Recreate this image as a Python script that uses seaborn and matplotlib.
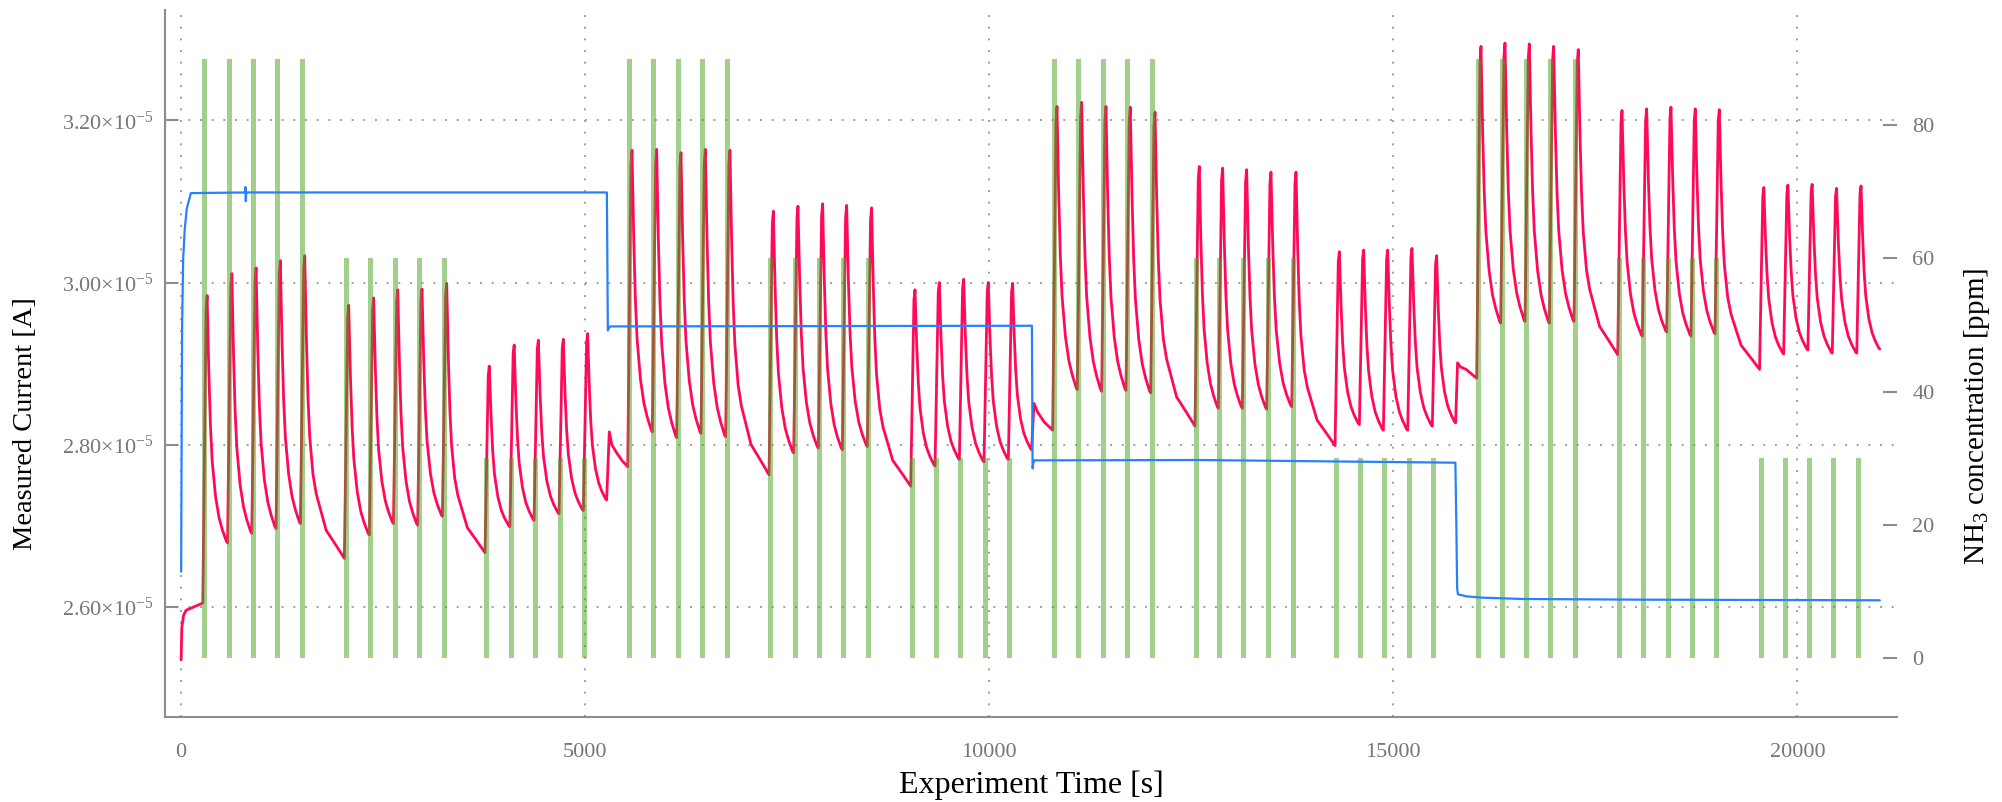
import numpy as np
import pandas as pd
import matplotlib
matplotlib.use("Agg")
import matplotlib.pyplot as plt
from matplotlib.ticker import FixedLocator, FuncFormatter
import seaborn as sns

# ---------------------------------------------------------------- data
# NH3 pulse centres [s], five pulses per group
pulse_center_s = [288, 594, 894, 1194, 1496,
                  2040, 2349, 2647, 2947, 3253,
                  3780, 4088, 4387, 4696, 4997,
                  5546, 5851, 6152, 6453, 6758,
                  7295, 7600, 7905, 8202, 8511,
                  9048, 9349, 9650, 9955, 10256,
                  10805, 11110, 11411, 11712, 12018,
                  12566, 12855, 13152, 13453, 13763,
                  14299, 14600, 14897, 15198, 15503,
                  16052, 16349, 16650, 16951, 17256,
                  17797, 18102, 18403, 18704, 19001,
                  19552, 19850, 20150, 20452, 20755]
# NH3 set-point of each group of five pulses [ppm]
group_setpoint_ppm = [90, 60, 30, 90, 60, 30, 90, 60, 30, 90, 60, 30]
pulse_width_s = 62

# sensor current at each response peak [1e-5 A]
peak_current = [2.984, 3.011, 3.018, 3.027, 3.033,
                2.972, 2.981, 2.991, 2.992, 2.999,
                2.897, 2.923, 2.929, 2.930, 2.937,
                3.163, 3.164, 3.160, 3.164, 3.163,
                3.088, 3.094, 3.097, 3.095, 3.092,
                2.991, 3.000, 3.004, 3.000, 2.999,
                3.217, 3.222, 3.217, 3.216, 3.210,
                3.143, 3.141, 3.139, 3.136, 3.136,
                3.038, 3.040, 3.040, 3.042, 3.033,
                3.291, 3.295, 3.294, 3.291, 3.287,
                3.212, 3.214, 3.216, 3.214, 3.213,
                3.117, 3.120, 3.121, 3.116, 3.119]
# sensor current at the end of each recovery [1e-5 A]
decay_end_current = [2.679, 2.691, 2.697, 2.703, 2.660,
                     2.689, 2.703, 2.701, 2.712, 2.667,
                     2.699, 2.707, 2.715, 2.719, 2.732,
                     2.816, 2.809, 2.814, 2.810, 2.763,
                     2.790, 2.796, 2.794, 2.798, 2.749,
                     2.774, 2.782, 2.779, 2.782, 2.794,
                     2.868, 2.866, 2.867, 2.864, 2.823,
                     2.845, 2.845, 2.844, 2.847, 2.799,
                     2.825, 2.818, 2.818, 2.823, 2.827,
                     2.950, 2.952, 2.950, 2.952, 2.911,
                     2.934, 2.939, 2.934, 2.937, 2.893,
                     2.912, 2.917, 2.913, 2.913, 2.918]

# beginning of the record, before the first pulse
start_t = [0, 8, 30, 60, 150, 268]
start_current = [2.535, 2.575, 2.590, 2.596, 2.600, 2.605]

# current steps when the carrier level changes (after pulses 15, 30, 45)
step_after_pulse = [14, 29, 44]
step_start_s = [5265, 10524, 15771]
step_t = [[5298, 5330, 5390, 5460, 5526],
          [10553, 10600, 10680, 10785],
          [15795, 15830, 15900, 16032]]
step_current = [[2.816, 2.800, 2.790, 2.780, 2.773],
                [2.851, 2.840, 2.828, 2.818],
                [2.901, 2.896, 2.893, 2.882]]
record_end_s = 21020

# response shape: rise starts before the pulse centre, peak comes after it
rise_lead_s = 20
near_peak_s, near_peak_level = 20, 0.95
peak_lag_s = 33
# recovery shape: fraction of recovery time vs fraction of peak height
short_decay_time = [0, .085, .165, .25, .415, .585, .75, .948, 1.0]
short_decay_level = [1, .688, .472, .329, .187, .102, .052, .006, 0]
long_decay_time = [0, .043, .083, .126, .209, .291, .540, .791, 1.0]
long_decay_level = [1, .721, .529, .402, .277, .213, .093, .043, 0]

# carrier concentration (blue) [s], [ppm]
carrier_t = [0, 5, 12, 25, 45, 70, 120, 790, 796, 800, 806,
             5268, 5280, 5290, 5310, 10528, 10536, 10545, 10560,
             12600, 15768, 15780, 15790, 15800, 15900, 16100, 16600, 18000, 21020]
carrier_ppm = [13, 30, 50, 60, 64.5, 67.5, 69.8, 69.9, 70.7, 68.6, 69.9,
               69.9, 49.2, 49.5, 49.8, 49.9, 28.5, 29.3, 29.7,
               29.75, 29.35, 20, 10.5, 9.6, 9.3, 9.1, 8.9, 8.8, 8.7]

# ------------------------------------------------------ assemble the trace
t_pts = list(start_t)
i_pts = list(start_current)
n = len(pulse_center_s)
for i, c in enumerate(pulse_center_s):
    base = i_pts[-1]
    pk = peak_current[i]
    t_pts += [c + near_peak_s, c + peak_lag_s]
    i_pts += [base + near_peak_level * (pk - base), pk]
    if i in step_after_pulse:
        t_end = step_start_s[step_after_pulse.index(i)]
    elif i == n - 1:
        t_end = record_end_s
    else:
        t_end = pulse_center_s[i + 1] - rise_lead_s
    end = decay_end_current[i]
    t0 = c + peak_lag_s
    dur = t_end - t0
    if dur > 350:
        shape = zip(long_decay_time[1:], long_decay_level[1:])
    else:
        shape = zip(short_decay_time[1:], short_decay_level[1:])
    for ft, fl in shape:
        t_pts.append(t0 + ft * dur)
        i_pts.append(end + fl * (pk - end))
    if i in step_after_pulse:
        k = step_after_pulse.index(i)
        t_pts += step_t[k]
        i_pts += step_current[k]

current_df = pd.DataFrame({"t": t_pts, "current": np.array(i_pts) * 1e-5})
carrier_df = pd.DataFrame({"t": carrier_t, "ppm": carrier_ppm})
pulse_df = pd.DataFrame({"t": pulse_center_s,
                         "ppm": np.repeat(group_setpoint_ppm, 5)})

# ---------------------------------------------------------------- style
sns.set_style("white")
plt.rcParams["font.family"] = ["Liberation Serif", "DejaVu Serif"]
plt.rcParams["mathtext.fontset"] = "custom"
plt.rcParams["mathtext.rm"] = "Liberation Serif"
plt.rcParams["mathtext.it"] = "Liberation Serif:italic"
plt.rcParams["mathtext.default"] = "regular"

RED = "#FF0A5A"
BLUE = "#2680FF"
GREEN = "#47A31B"
AXIS = "#8C8C8C"
TICKTXT = "#777777"
GRID = "#A0A0A0"

fig = plt.figure(figsize=(20.02, 8.02), dpi=100)
W, H = 2002, 802
ax = fig.add_axes([165 / W, 1 - 717 / H, (1897 - 165) / W, (717 - 10) / H])
ax2 = ax.twinx()

sns.lineplot(data=current_df, x="t", y="current", ax=ax, color=RED,
             linewidth=2.0, estimator=None, sort=False)
ax2.bar(pulse_df["t"], pulse_df["ppm"], width=pulse_width_s, color=GREEN,
        alpha=0.5, linewidth=0, zorder=2)
sns.lineplot(data=carrier_df, x="t", y="ppm", ax=ax2, color=BLUE,
             linewidth=1.6, estimator=None, sort=False, zorder=3)

ax.set_xlim(-200, 21233)
ax.set_ylim(2.4646e-5, 3.3358e-5)
ax2.set_ylim(-8.81, 97.28)

# grid and ticks
ax.xaxis.set_major_locator(FixedLocator([0, 5000, 10000, 15000, 20000]))
ax.yaxis.set_major_locator(FixedLocator([2.6e-5, 2.8e-5, 3.0e-5, 3.2e-5]))
ax.yaxis.set_major_formatter(FuncFormatter(
    lambda v, p: f"{v / 1e-5:.2f}\u00d710$^{{-5}}$"))
ax.xaxis.set_major_formatter(FuncFormatter(lambda v, p: f"{v:.0f}"))
ax.grid(True, color=GRID, linestyle=(0, (1, 5)), linewidth=1.4)
ax.set_axisbelow(True)

ax2.yaxis.set_major_locator(FixedLocator([0, 20, 40, 60, 80]))
ax2.grid(False)

for s in ["top", "right"]:
    ax.spines[s].set_visible(False)
for s in ["left", "bottom"]:
    ax.spines[s].set_color(AXIS)
    ax.spines[s].set_linewidth(1.5)
for s in ax2.spines.values():
    s.set_visible(False)

ax.tick_params(axis="both", direction="in", color=AXIS, width=1.5,
               labelcolor=TICKTXT, labelsize=16)
ax.tick_params(axis="y", length=9, pad=8)
ax.tick_params(axis="x", length=9, pad=19)
ax2.tick_params(axis="y", direction="in", length=10, width=1.5, color=AXIS,
                labelcolor=TICKTXT, labelsize=16, pad=11)

ax.set_xlabel("Experiment Time [s]", fontsize=23, color="black")
ax.set_ylabel("Measured Current [A]", fontsize=20.5, color="black")
ax2.set_ylabel("NH$_3$ concentration [ppm]", fontsize=21, color="black",
               rotation=90)
ax.xaxis.set_label_coords(0.5, -0.076)
ax.yaxis.set_label_coords(-0.0735, 0.415)
ax2.yaxis.set_label_coords(1.0375, 0.425)

fig.savefig("out.png", dpi=100)
